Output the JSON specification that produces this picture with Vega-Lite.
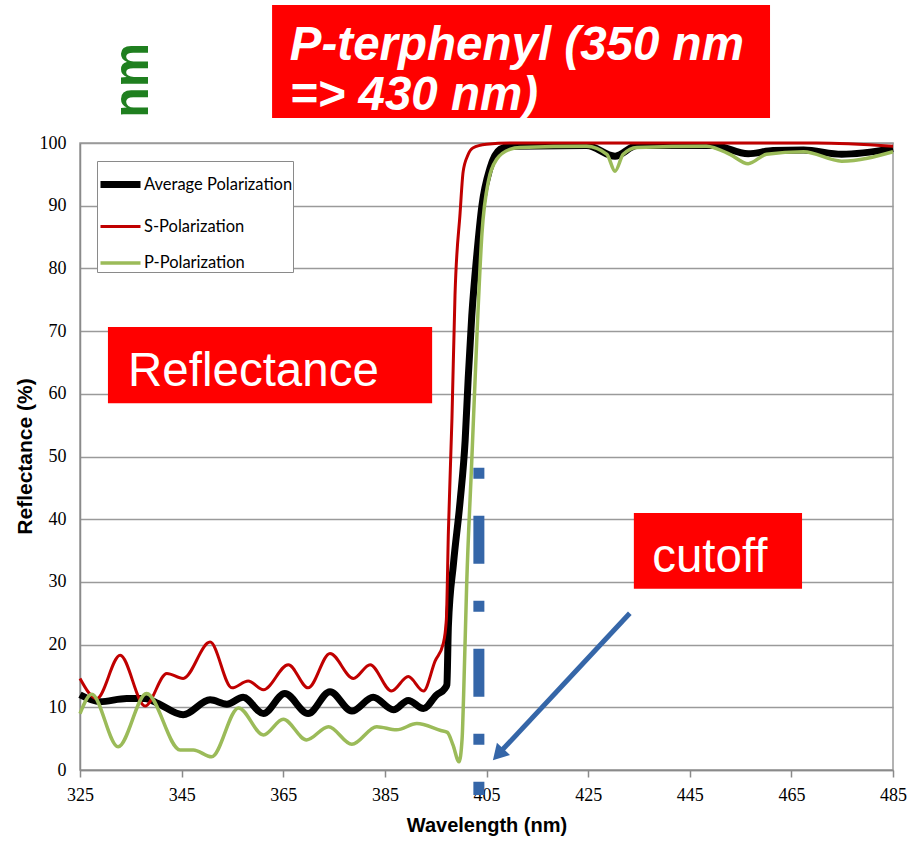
{
  "$schema": "https://vega.github.io/schema/vega-lite/v6.json",
  "width": 813,
  "height": 627,
  "autosize": {"type": "none"},
  "padding": {"left": 80, "top": 143, "right": 25, "bottom": 79},
  "background": "white",
  "config": {
    "view": {"stroke": "#9a9a9a", "strokeWidth": 1.5},
    "legend": {
      "orient": "none",
      "legendX": 17,
      "legendY": 18,
      "fillColor": "white",
      "strokeColor": "#8a8a8a",
      "padding": 0,
      "symbolType": "stroke",
      "symbolSize": 1600,
      "labelFont": "Lato",
      "labelFontSize": 16.5,
      "labelColor": "black",
      "labelOffset": 0,
      "labelLimit": 300,
      "rowPadding": 6
    }
  },
  "datasets": {
    "curves": [
      {"series": "Average Polarization", "nm": 325, "R": 12.0},
      {"series": "Average Polarization", "nm": 328.9, "R": 10.9},
      {"series": "Average Polarization", "nm": 334.2, "R": 11.4},
      {"series": "Average Polarization", "nm": 337.8, "R": 11.4},
      {"series": "Average Polarization", "nm": 340.1, "R": 10.7},
      {"series": "Average Polarization", "nm": 345.3, "R": 8.8},
      {"series": "Average Polarization", "nm": 350.6, "R": 11.2},
      {"series": "Average Polarization", "nm": 353.9, "R": 10.5},
      {"series": "Average Polarization", "nm": 357.1, "R": 11.6},
      {"series": "Average Polarization", "nm": 361.1, "R": 9.0},
      {"series": "Average Polarization", "nm": 365.3, "R": 12.2},
      {"series": "Average Polarization", "nm": 369.9, "R": 9.0},
      {"series": "Average Polarization", "nm": 374.2, "R": 12.5},
      {"series": "Average Polarization", "nm": 378.5, "R": 9.4},
      {"series": "Average Polarization", "nm": 382.7, "R": 11.6},
      {"series": "Average Polarization", "nm": 386.7, "R": 9.6},
      {"series": "Average Polarization", "nm": 389.6, "R": 11.1},
      {"series": "Average Polarization", "nm": 392.6, "R": 9.8},
      {"series": "Average Polarization", "nm": 395.2, "R": 12.0},
      {"series": "Average Polarization", "nm": 396.8, "R": 13.0},
      {"series": "Average Polarization", "nm": 397.2, "R": 13.6},
      {"series": "Average Polarization", "nm": 397.5, "R": 23.0},
      {"series": "Average Polarization", "nm": 398.5, "R": 32.9},
      {"series": "Average Polarization", "nm": 399.8, "R": 42.8},
      {"series": "Average Polarization", "nm": 400.8, "R": 52.6},
      {"series": "Average Polarization", "nm": 401.4, "R": 62.5},
      {"series": "Average Polarization", "nm": 402.1, "R": 72.4},
      {"series": "Average Polarization", "nm": 403.1, "R": 82.2},
      {"series": "Average Polarization", "nm": 404.1, "R": 90.0},
      {"series": "Average Polarization", "nm": 405.7, "R": 96.0},
      {"series": "Average Polarization", "nm": 407.7, "R": 99.0},
      {"series": "Average Polarization", "nm": 409.6, "R": 99.5},
      {"series": "Average Polarization", "nm": 424.7, "R": 99.6},
      {"series": "Average Polarization", "nm": 430.3, "R": 97.9},
      {"series": "Average Polarization", "nm": 434.6, "R": 99.6},
      {"series": "Average Polarization", "nm": 449.6, "R": 99.6},
      {"series": "Average Polarization", "nm": 456.5, "R": 98.3},
      {"series": "Average Polarization", "nm": 461.4, "R": 98.8},
      {"series": "Average Polarization", "nm": 467.4, "R": 98.9},
      {"series": "Average Polarization", "nm": 474.9, "R": 98.2},
      {"series": "Average Polarization", "nm": 485, "R": 99.1},

      {"series": "S-Polarization", "nm": 325, "R": 14.6},
      {"series": "S-Polarization", "nm": 328.3, "R": 11.4},
      {"series": "S-Polarization", "nm": 332.9, "R": 18.3},
      {"series": "S-Polarization", "nm": 337.8, "R": 10.2},
      {"series": "S-Polarization", "nm": 342.1, "R": 15.4},
      {"series": "S-Polarization", "nm": 345.3, "R": 14.6},
      {"series": "S-Polarization", "nm": 350.6, "R": 20.4},
      {"series": "S-Polarization", "nm": 354.9, "R": 13.1},
      {"series": "S-Polarization", "nm": 358.1, "R": 14.2},
      {"series": "S-Polarization", "nm": 361.1, "R": 12.8},
      {"series": "S-Polarization", "nm": 366.0, "R": 16.8},
      {"series": "S-Polarization", "nm": 369.9, "R": 13.1},
      {"series": "S-Polarization", "nm": 374.2, "R": 18.6},
      {"series": "S-Polarization", "nm": 378.8, "R": 14.6},
      {"series": "S-Polarization", "nm": 382.1, "R": 16.8},
      {"series": "S-Polarization", "nm": 386.3, "R": 12.6},
      {"series": "S-Polarization", "nm": 389.6, "R": 14.9},
      {"series": "S-Polarization", "nm": 392.6, "R": 12.6},
      {"series": "S-Polarization", "nm": 394.9, "R": 17.4},
      {"series": "S-Polarization", "nm": 396.5, "R": 20.2},
      {"series": "S-Polarization", "nm": 397.1, "R": 24.0},
      {"series": "S-Polarization", "nm": 397.5, "R": 38.0},
      {"series": "S-Polarization", "nm": 398.2, "R": 56.0},
      {"series": "S-Polarization", "nm": 398.8, "R": 75.7},
      {"series": "S-Polarization", "nm": 399.8, "R": 88.8},
      {"series": "S-Polarization", "nm": 400.4, "R": 95.4},
      {"series": "S-Polarization", "nm": 401.3, "R": 98.0},
      {"series": "S-Polarization", "nm": 402.3, "R": 99.2},
      {"series": "S-Polarization", "nm": 405.0, "R": 99.8},
      {"series": "S-Polarization", "nm": 409.6, "R": 100},
      {"series": "S-Polarization", "nm": 470, "R": 100},
      {"series": "S-Polarization", "nm": 485, "R": 99.5},

      {"series": "P-Polarization", "nm": 325, "R": 9.0},
      {"series": "P-Polarization", "nm": 327.3, "R": 12.1},
      {"series": "P-Polarization", "nm": 332.5, "R": 3.7},
      {"series": "P-Polarization", "nm": 338.1, "R": 12.2},
      {"series": "P-Polarization", "nm": 344.7, "R": 3.2},
      {"series": "P-Polarization", "nm": 347.3, "R": 3.2},
      {"series": "P-Polarization", "nm": 350.9, "R": 2.1},
      {"series": "P-Polarization", "nm": 356.2, "R": 9.9},
      {"series": "P-Polarization", "nm": 361.1, "R": 5.6},
      {"series": "P-Polarization", "nm": 365.0, "R": 8.1},
      {"series": "P-Polarization", "nm": 369.6, "R": 4.8},
      {"series": "P-Polarization", "nm": 373.9, "R": 6.9},
      {"series": "P-Polarization", "nm": 378.5, "R": 4.1},
      {"series": "P-Polarization", "nm": 383.4, "R": 6.9},
      {"series": "P-Polarization", "nm": 387.3, "R": 6.4},
      {"series": "P-Polarization", "nm": 391.3, "R": 7.4},
      {"series": "P-Polarization", "nm": 396.0, "R": 6.3},
      {"series": "P-Polarization", "nm": 397.3, "R": 6.0},
      {"series": "P-Polarization", "nm": 398.4, "R": 4.0},
      {"series": "P-Polarization", "nm": 399.6, "R": 1.3},
      {"series": "P-Polarization", "nm": 400.2, "R": 5.0},
      {"series": "P-Polarization", "nm": 400.5, "R": 12.0},
      {"series": "P-Polarization", "nm": 401.1, "R": 29.6},
      {"series": "P-Polarization", "nm": 402.1, "R": 49.3},
      {"series": "P-Polarization", "nm": 403.1, "R": 69.0},
      {"series": "P-Polarization", "nm": 404.1, "R": 85.5},
      {"series": "P-Polarization", "nm": 405.4, "R": 94.0},
      {"series": "P-Polarization", "nm": 407.0, "R": 97.4},
      {"series": "P-Polarization", "nm": 409.6, "R": 99.0},
      {"series": "P-Polarization", "nm": 411.6, "R": 99.3},
      {"series": "P-Polarization", "nm": 424.7, "R": 99.5},
      {"series": "P-Polarization", "nm": 428.7, "R": 98.2},
      {"series": "P-Polarization", "nm": 430.3, "R": 95.5},
      {"series": "P-Polarization", "nm": 431.9, "R": 98.2},
      {"series": "P-Polarization", "nm": 434.6, "R": 99.3},
      {"series": "P-Polarization", "nm": 448.3, "R": 99.5},
      {"series": "P-Polarization", "nm": 452.9, "R": 98.2},
      {"series": "P-Polarization", "nm": 456.5, "R": 96.7},
      {"series": "P-Polarization", "nm": 460.1, "R": 98.2},
      {"series": "P-Polarization", "nm": 467.4, "R": 98.6},
      {"series": "P-Polarization", "nm": 474.9, "R": 97.1},
      {"series": "P-Polarization", "nm": 485, "R": 98.6}
    ],
    "cutoffLine": [{"nm": 403.5, "top": 48.2, "bottom": -4.0}],
    "arrow": [{"nm": 433.2, "R": 25.0, "nm2": 407.3, "R2": 2.5}],
    "arrowHead": [{"nm": 407.3, "R": 2.45}],
    "boxes": [
      {"x1": 362.8, "x2": 460.8, "y1": 122.0, "y2": 104.0},
      {"x1": 330.5, "x2": 394.3, "y1": 70.65, "y2": 58.5},
      {"x1": 434.0, "x2": 467.1, "y1": 41.0, "y2": 28.9}
    ],
    "titleText": [
      {"t": "P-terphenyl (350 nm", "nm": 366.3, "R": 113.2},
      {"t": "=> 430 nm)", "nm": 366.3, "R": 105.3}
    ],
    "boxText": [
      {"t": "Reflectance", "nm": 334.45, "R": 61.2},
      {"t": "cutoff", "nm": 437.6, "R": 31.6}
    ],
    "nmText": [{"t": "nm", "nm": 338.4, "R": 110.0}]
  },
  "layer": [
    {
      "data": {"name": "curves"},
      "mark": {"type": "line", "interpolate": "monotone"},
      "encoding": {
        "x": {
          "field": "nm", "type": "quantitative",
          "scale": {"domain": [325, 485], "nice": false, "zero": false},
          "axis": {
            "values": [325, 345, 365, 385, 405, 425, 445, 465, 485],
            "grid": false, "labelFlush": false, "labelOverlap": false,
            "tickColor": "#8a8a8a", "tickSize": 7, "tickWidth": 1.5,
            "domainColor": "#8a8a8a", "domainWidth": 1.5,
            "labelFont": "Liberation Serif", "labelFontSize": 18, "labelColor": "black",
            "labelPadding": 9,
            "title": "Wavelength (nm)",
            "titleFont": "Liberation Sans", "titleFontSize": 20, "titleFontWeight": "bold",
            "titleColor": "black", "titlePadding": 11
          }
        },
        "y": {
          "field": "R", "type": "quantitative",
          "scale": {"domain": [0, 100], "nice": false},
          "axis": {
            "values": [0, 10, 20, 30, 40, 50, 60, 70, 80, 90, 100],
            "grid": true, "gridColor": "#9a9a9a", "gridWidth": 1.5,
            "ticks": false, "tickSize": 0, "labelFlush": false, "labelOverlap": false,
            "domainColor": "#8a8a8a", "domainWidth": 1.5,
            "labelFont": "Liberation Serif", "labelFontSize": 18, "labelColor": "black",
            "labelPadding": 14,
            "title": "Reflectance (%)",
            "titleFont": "Liberation Sans", "titleFontSize": 21, "titleFontWeight": "bold",
            "titleColor": "black", "titleAngle": 270, "titleX": -55, "titleY": 313,
            "titleAlign": "center", "titleBaseline": "middle"
          }
        },
        "color": {
          "field": "series", "type": "nominal",
          "scale": {
            "domain": ["Average Polarization", "S-Polarization", "P-Polarization"],
            "range": ["#000000", "#c00000", "#9bbb59"]
          },
          "legend": {"title": null}
        },
        "strokeWidth": {
          "field": "series", "type": "nominal",
          "scale": {
            "type": "ordinal",
            "domain": ["Average Polarization", "S-Polarization", "P-Polarization"],
            "range": [7, 3, 3.5]
          },
          "legend": {"title": null}
        }
      }
    },
    {
      "data": {"name": "cutoffLine"},
      "mark": {"type": "rule", "color": "#3566a8", "strokeWidth": 11, "strokeDash": [11, 37, 48, 37], "strokeCap": "butt"},
      "encoding": {
        "x": {"field": "nm", "type": "quantitative"},
        "y": {"field": "top", "type": "quantitative"},
        "y2": {"field": "bottom"}
      }
    },
    {
      "data": {"name": "arrow"},
      "mark": {"type": "rule", "color": "#3566a8", "strokeWidth": 5},
      "encoding": {
        "x": {"field": "nm", "type": "quantitative"},
        "y": {"field": "R", "type": "quantitative"},
        "x2": {"field": "nm2"},
        "y2": {"field": "R2"}
      }
    },
    {
      "data": {"name": "arrowHead"},
      "mark": {"type": "point", "shape": "triangle-up", "filled": true, "color": "#3566a8", "opacity": 1, "size": 320, "angle": 223},
      "encoding": {
        "x": {"field": "nm", "type": "quantitative"},
        "y": {"field": "R", "type": "quantitative"}
      }
    },
    {
      "data": {"name": "boxes"},
      "mark": {"type": "rect", "color": "#ff0000", "opacity": 1},
      "encoding": {
        "x": {"field": "x1", "type": "quantitative"},
        "x2": {"field": "x2"},
        "y": {"field": "y1", "type": "quantitative"},
        "y2": {"field": "y2"}
      }
    },
    {
      "data": {"name": "titleText"},
      "mark": {"type": "text", "font": "Liberation Sans", "fontSize": 47.5, "fontWeight": "bold", "fontStyle": "italic", "color": "white", "align": "left", "baseline": "alphabetic"},
      "encoding": {
        "x": {"field": "nm", "type": "quantitative"},
        "y": {"field": "R", "type": "quantitative"},
        "text": {"field": "t"}
      }
    },
    {
      "data": {"name": "boxText"},
      "mark": {"type": "text", "font": "Liberation Sans", "fontSize": 47.5, "color": "white", "align": "left", "baseline": "alphabetic"},
      "encoding": {
        "x": {"field": "nm", "type": "quantitative"},
        "y": {"field": "R", "type": "quantitative"},
        "text": {"field": "t"}
      }
    },
    {
      "data": {"name": "nmText"},
      "mark": {"type": "text", "font": "Liberation Sans", "fontSize": 50, "fontWeight": "bold", "color": "#1f7f1f", "align": "center", "baseline": "alphabetic", "angle": 270},
      "encoding": {
        "x": {"field": "nm", "type": "quantitative"},
        "y": {"field": "R", "type": "quantitative"},
        "text": {"field": "t"}
      }
    }
  ]
}
